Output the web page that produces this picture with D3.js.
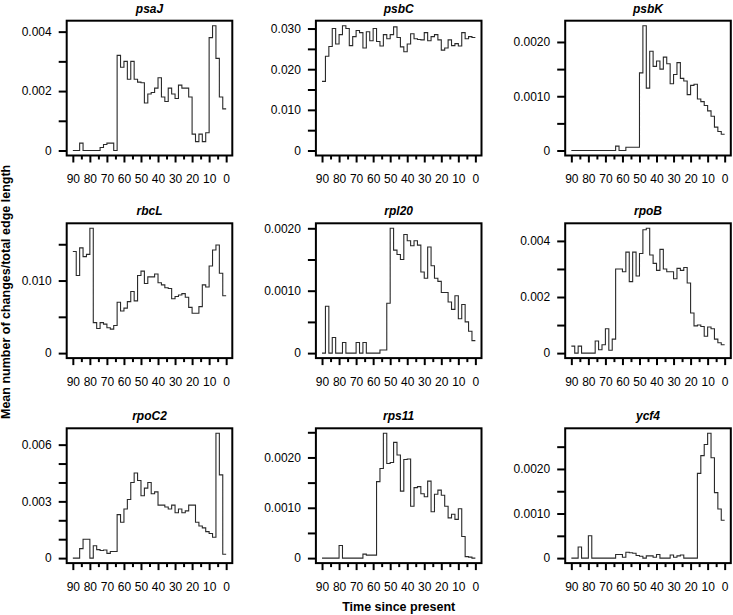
<!DOCTYPE html>
<html><head><meta charset="utf-8">
<script src="https://cdn.jsdelivr.net/npm/d3@7"></script>
<style>body{margin:0;background:#fff} svg{display:block}</style>
</head><body>
<svg id="c" width="733" height="615"></svg>
<script>
// bin start times (time since present), bins of width 2
const binStarts = [90,88,86,84,82,80,78,76,74,72,70,68,66,64,62,60,58,56,54,52,50,48,46,44,42,40,38,36,34,32,30,28,26,24,22,20,18,16,14,12,10,8,6,4,2];
const genes = ["psaJ","psbC","psbK","rbcL","rpl20","rpoB","rpoC2","rps11","ycf4"];

const psaJ = [0,0,0.00025,0,0,0,0,0,0.0001,0.0002,0.00025,0.00025,0,0.0032,0.0028,0.0030,0.0024,0.0030,0.0024,0.0023,0.00228,0.0016,0.0019,0.00195,0.0021,0.00245,0.0018,0.00165,0.0021,0.0019,0.00175,0.0022,0.0021,0.0021,0.0018,0.00055,0.0003,0.00055,0.0003,0.0006,0.0038,0.0042,0.0031,0.0018,0.0014];
const psbC = [0.017,0.0232,0.0256,0.0300,0.0262,0.0285,0.0307,0.0300,0.0258,0.0280,0.0295,0.0290,0.0252,0.0292,0.0270,0.0300,0.0268,0.0257,0.0285,0.0275,0.0285,0.0304,0.0278,0.0255,0.0243,0.0262,0.0287,0.0275,0.0273,0.0272,0.0290,0.0270,0.0280,0.0285,0.0272,0.0247,0.0252,0.0272,0.0258,0.0263,0.0257,0.0290,0.0275,0.0280,0.0278];
const psbK = [0,0,0,0,0,0,0,0,0,0,0,0,0,0.00008,0,0,0.00006,0.00006,0.00006,0.00006,0.00143,0.0023,0.00115,0.00183,0.00155,0.00165,0.0015,0.00172,0.0016,0.00123,0.0014,0.00162,0.00133,0.00128,0.00103,0.0012,0.00122,0.00095,0.0009,0.00083,0.00073,0.00063,0.00043,0.00035,0.0003];
const rbcL = [0.0140,0.0107,0.0145,0.0133,0.0136,0.0172,0.0042,0.0034,0.0042,0.0040,0.0035,0.0033,0.0038,0.0070,0.0058,0.0062,0.0071,0.0085,0.0072,0.0107,0.0113,0.0096,0.0105,0.0105,0.0109,0.0097,0.0094,0.0090,0.0089,0.0075,0.0078,0.0080,0.0082,0.0077,0.0063,0.0055,0.0055,0.0064,0.0094,0.0091,0.0120,0.0142,0.0149,0.0110,0.0079];
const rpl20 = [0,0.00075,0,0.00025,0,0,0.00017,0,0,0,0.00017,0,0.00017,0,0,0,0,0.00005,0.00005,0.0008,0.0020,0.00165,0.00158,0.0015,0.0019,0.0018,0.00172,0.0018,0.00173,0.0013,0.0012,0.0017,0.0014,0.0012,0.00115,0.00097,0.00097,0.00082,0.0007,0.00092,0.00055,0.00078,0.0005,0.00035,0.0002];
const rpoB = [0.00025,0,0.00025,0,0,0,0,0.00043,0.00012,0.0003,0.00087,0.0001,0.0005,0.0030,0.0030,0.0029,0.0036,0.00255,0.0036,0.00275,0.00355,0.0044,0.00445,0.0035,0.0032,0.00295,0.0037,0.0030,0.0029,0.0029,0.00265,0.00302,0.00295,0.00305,0.0025,0.00143,0.00097,0.001,0.00095,0.0006,0.00093,0.00087,0.0005,0.00037,0.0003];
const rpoC2 = [0,0,0.0005,0.001,0.001,0,0.00065,0.00045,0.0004,0.00043,0.00025,0.00035,0.00035,0.0023,0.0019,0.0026,0.0031,0.0040,0.0045,0.0041,0.0033,0.0037,0.0040,0.0034,0.0035,0.0028,0.0028,0.0027,0.0026,0.0028,0.0024,0.0026,0.0024,0.0025,0.0028,0.0028,0.0019,0.0017,0.0016,0.0014,0.0013,0.0011,0.0066,0.0044,0.0002];
const rps11 = [0,0,0,0,0,0.00025,0,0,0,0,0,0,0.00008,0.00006,0.00006,0.00006,0.00152,0.00178,0.00248,0.00188,0.0019,0.0023,0.00205,0.00133,0.00196,0.00197,0.00103,0.0014,0.00142,0.00128,0.00122,0.00153,0.00092,0.00127,0.00135,0.00125,0.00103,0.0008,0.00087,0.00077,0.00098,0.00043,0.00003,0.00002,0];
const ycf4 = [0,0,0.00025,0,0,0.0005,0,0,0,0,0,0,0,0.00008,0.00008,0.00002,0.00013,0.00012,0.00011,0.00006,0.00004,0,0.00005,0.00005,0.00002,0.00008,0,0,0,0.00007,0.00002,0.00005,0.00007,0,0,0,0,0.0019,0.0023,0.00255,0.0028,0.00225,0.00147,0.0011,0.00085];

// x ticks
const xMajorTicks = [90,80,70,60,50,40,30,20,10,0];
const xMinorTicks = [85,75,65,55,45,35,25,15,5];

// y ticks per panel
const yTicks_psaJ  = [0,0.001,0.002,0.003,0.004];
const yTicks_psbC  = [0,0.005,0.010,0.015,0.020,0.025,0.030];
const yTicks_psbK  = [0,0.0005,0.0010,0.0015,0.0020];
const yTicks_rbcL  = [0,0.005,0.010,0.015];
const yTicks_rpl20 = [0,0.0005,0.0010,0.0015,0.0020];
const yTicks_rpoB  = [0,0.001,0.002,0.003,0.004];
const yTicks_rpoC2 = [0,0.001,0.002,0.003,0.004,0.005,0.006];
const yTicks_rps11 = [0,0.0005,0.0010,0.0015,0.0020,0.0025];
const yTicks_ycf4  = [0,0.0005,0.0010,0.0015,0.0020,0.0025];

const yLabels_psaJ  = ["0","0.002","0.004"];
const yLabels_psbC  = ["0","0.010","0.020","0.030"];
const yLabels_psbK  = ["0","0.0010","0.0020"];
const yLabels_rbcL  = ["0","0.010"];
const yLabels_rpl20 = ["0","0.0010","0.0020"];
const yLabels_rpoB  = ["0","0.002","0.004"];
const yLabels_rpoC2 = ["0","0.003","0.006"];
const yLabels_rps11 = ["0","0.0010","0.0020"];
const yLabels_ycf4  = ["0","0.0010","0.0020"];

const series = {psaJ, psbC, psbK, rbcL, rpl20, rpoB, rpoC2, rps11, ycf4};
const yTicksBy = {psaJ:yTicks_psaJ, psbC:yTicks_psbC, psbK:yTicks_psbK, rbcL:yTicks_rbcL, rpl20:yTicks_rpl20, rpoB:yTicks_rpoB, rpoC2:yTicks_rpoC2, rps11:yTicks_rps11, ycf4:yTicks_ycf4};
const yLabelsBy = {psaJ:yLabels_psaJ, psbC:yLabels_psbC, psbK:yLabels_psbK, rbcL:yLabels_rbcL, rpl20:yLabels_rpl20, rpoB:yLabels_rpoB, rpoC2:yLabels_rpoC2, rps11:yLabels_rps11, ycf4:yLabels_ycf4};

// layout
const colLeft = [66.7, 315.9, 565.2];
const rowTop = [20.7, 223.3, 428.3];
const pw = 165.6, ph = 134.8;
const FONT = "'Liberation Sans', Arial, Helvetica, sans-serif";

const svg = d3.select("#c");

genes.forEach((g, i) => {
  const left = colLeft[i % 3], top = rowTop[Math.floor(i / 3)];
  const vals = series[g];
  const xExt = 90 * 0.04;
  const x = d3.scaleLinear().domain([90 + xExt, 0 - xExt]).range([0, pw]);
  const vmax = d3.max(vals);
  const yExt = vmax * 0.04;
  const y = d3.scaleLinear().domain([0 - yExt, vmax + yExt]).range([ph, 0]);

  const p = svg.append("g").attr("transform", `translate(${left},${top})`);

  // data step line
  const pts = binStarts.map((t, k) => [t, vals[k]]);
  pts.push([0, vals[vals.length - 1]]);
  const line = d3.line().x(d => x(d[0])).y(d => y(d[1])).curve(d3.curveStepAfter);
  p.append("path").attr("d", line(pts))
    .attr("fill", "none").attr("stroke", "#2a2a2a").attr("stroke-width", 1.1);

  // frame
  p.append("rect").attr("x", 0).attr("y", 0).attr("width", pw).attr("height", ph)
    .attr("fill", "none").attr("stroke", "#000").attr("stroke-width", 2);

  // y axis
  const labs = yLabelsBy[g];
  const labMap = new Map(labs.map(s => [+s, s]));
  const ya = p.append("g").call(
    d3.axisLeft(y).tickValues(yTicksBy[g]).tickSize(8).tickPadding(7)
      .tickFormat(d => { for (const [k, s] of labMap) if (Math.abs(k - d) < 1e-9) return s; return ""; })
  );
  ya.select(".domain").remove();
  ya.selectAll(".tick line").attr("stroke", "#000").attr("stroke-width", 2);
  ya.selectAll(".tick text").attr("font-family", FONT).attr("font-size", 12).attr("fill", "#000");

  // x axis major
  const xa = p.append("g").attr("transform", `translate(0,${ph})`).call(
    d3.axisBottom(x).tickValues(xMajorTicks).tickSize(7).tickPadding(12).tickFormat(d3.format("d"))
  );
  xa.select(".domain").remove();
  xa.selectAll(".tick line").attr("stroke", "#000").attr("stroke-width", 2);
  xa.selectAll(".tick text").attr("font-family", FONT).attr("font-size", 12).attr("fill", "#000");

  // x axis minor
  const xm = p.append("g").attr("transform", `translate(0,${ph})`).call(
    d3.axisBottom(x).tickValues(xMinorTicks).tickSize(4).tickFormat("")
  );
  xm.select(".domain").remove();
  xm.selectAll(".tick line").attr("stroke", "#000").attr("stroke-width", 2);

  // title
  p.append("text").attr("x", pw / 2).attr("y", -8).attr("text-anchor", "middle")
    .attr("font-family", FONT).attr("font-size", 12).attr("font-weight", "bold")
    .attr("font-style", "italic").attr("fill", "#000").text(g);
});

// axis titles
svg.append("text").attr("x", colLeft[1] + pw / 2).attr("y", 611).attr("text-anchor", "middle")
  .attr("font-family", FONT).attr("font-size", 12.5).attr("font-weight", "bold").attr("fill", "#000")
  .text("Time since present");
svg.append("text").attr("transform", `translate(10,${(rowTop[0] + rowTop[2] + ph) / 2}) rotate(-90)`)
  .attr("text-anchor", "middle")
  .attr("font-family", FONT).attr("font-size", 12.5).attr("font-weight", "bold").attr("fill", "#000")
  .text("Mean number of changes/total edge length");
</script>
</body></html>
